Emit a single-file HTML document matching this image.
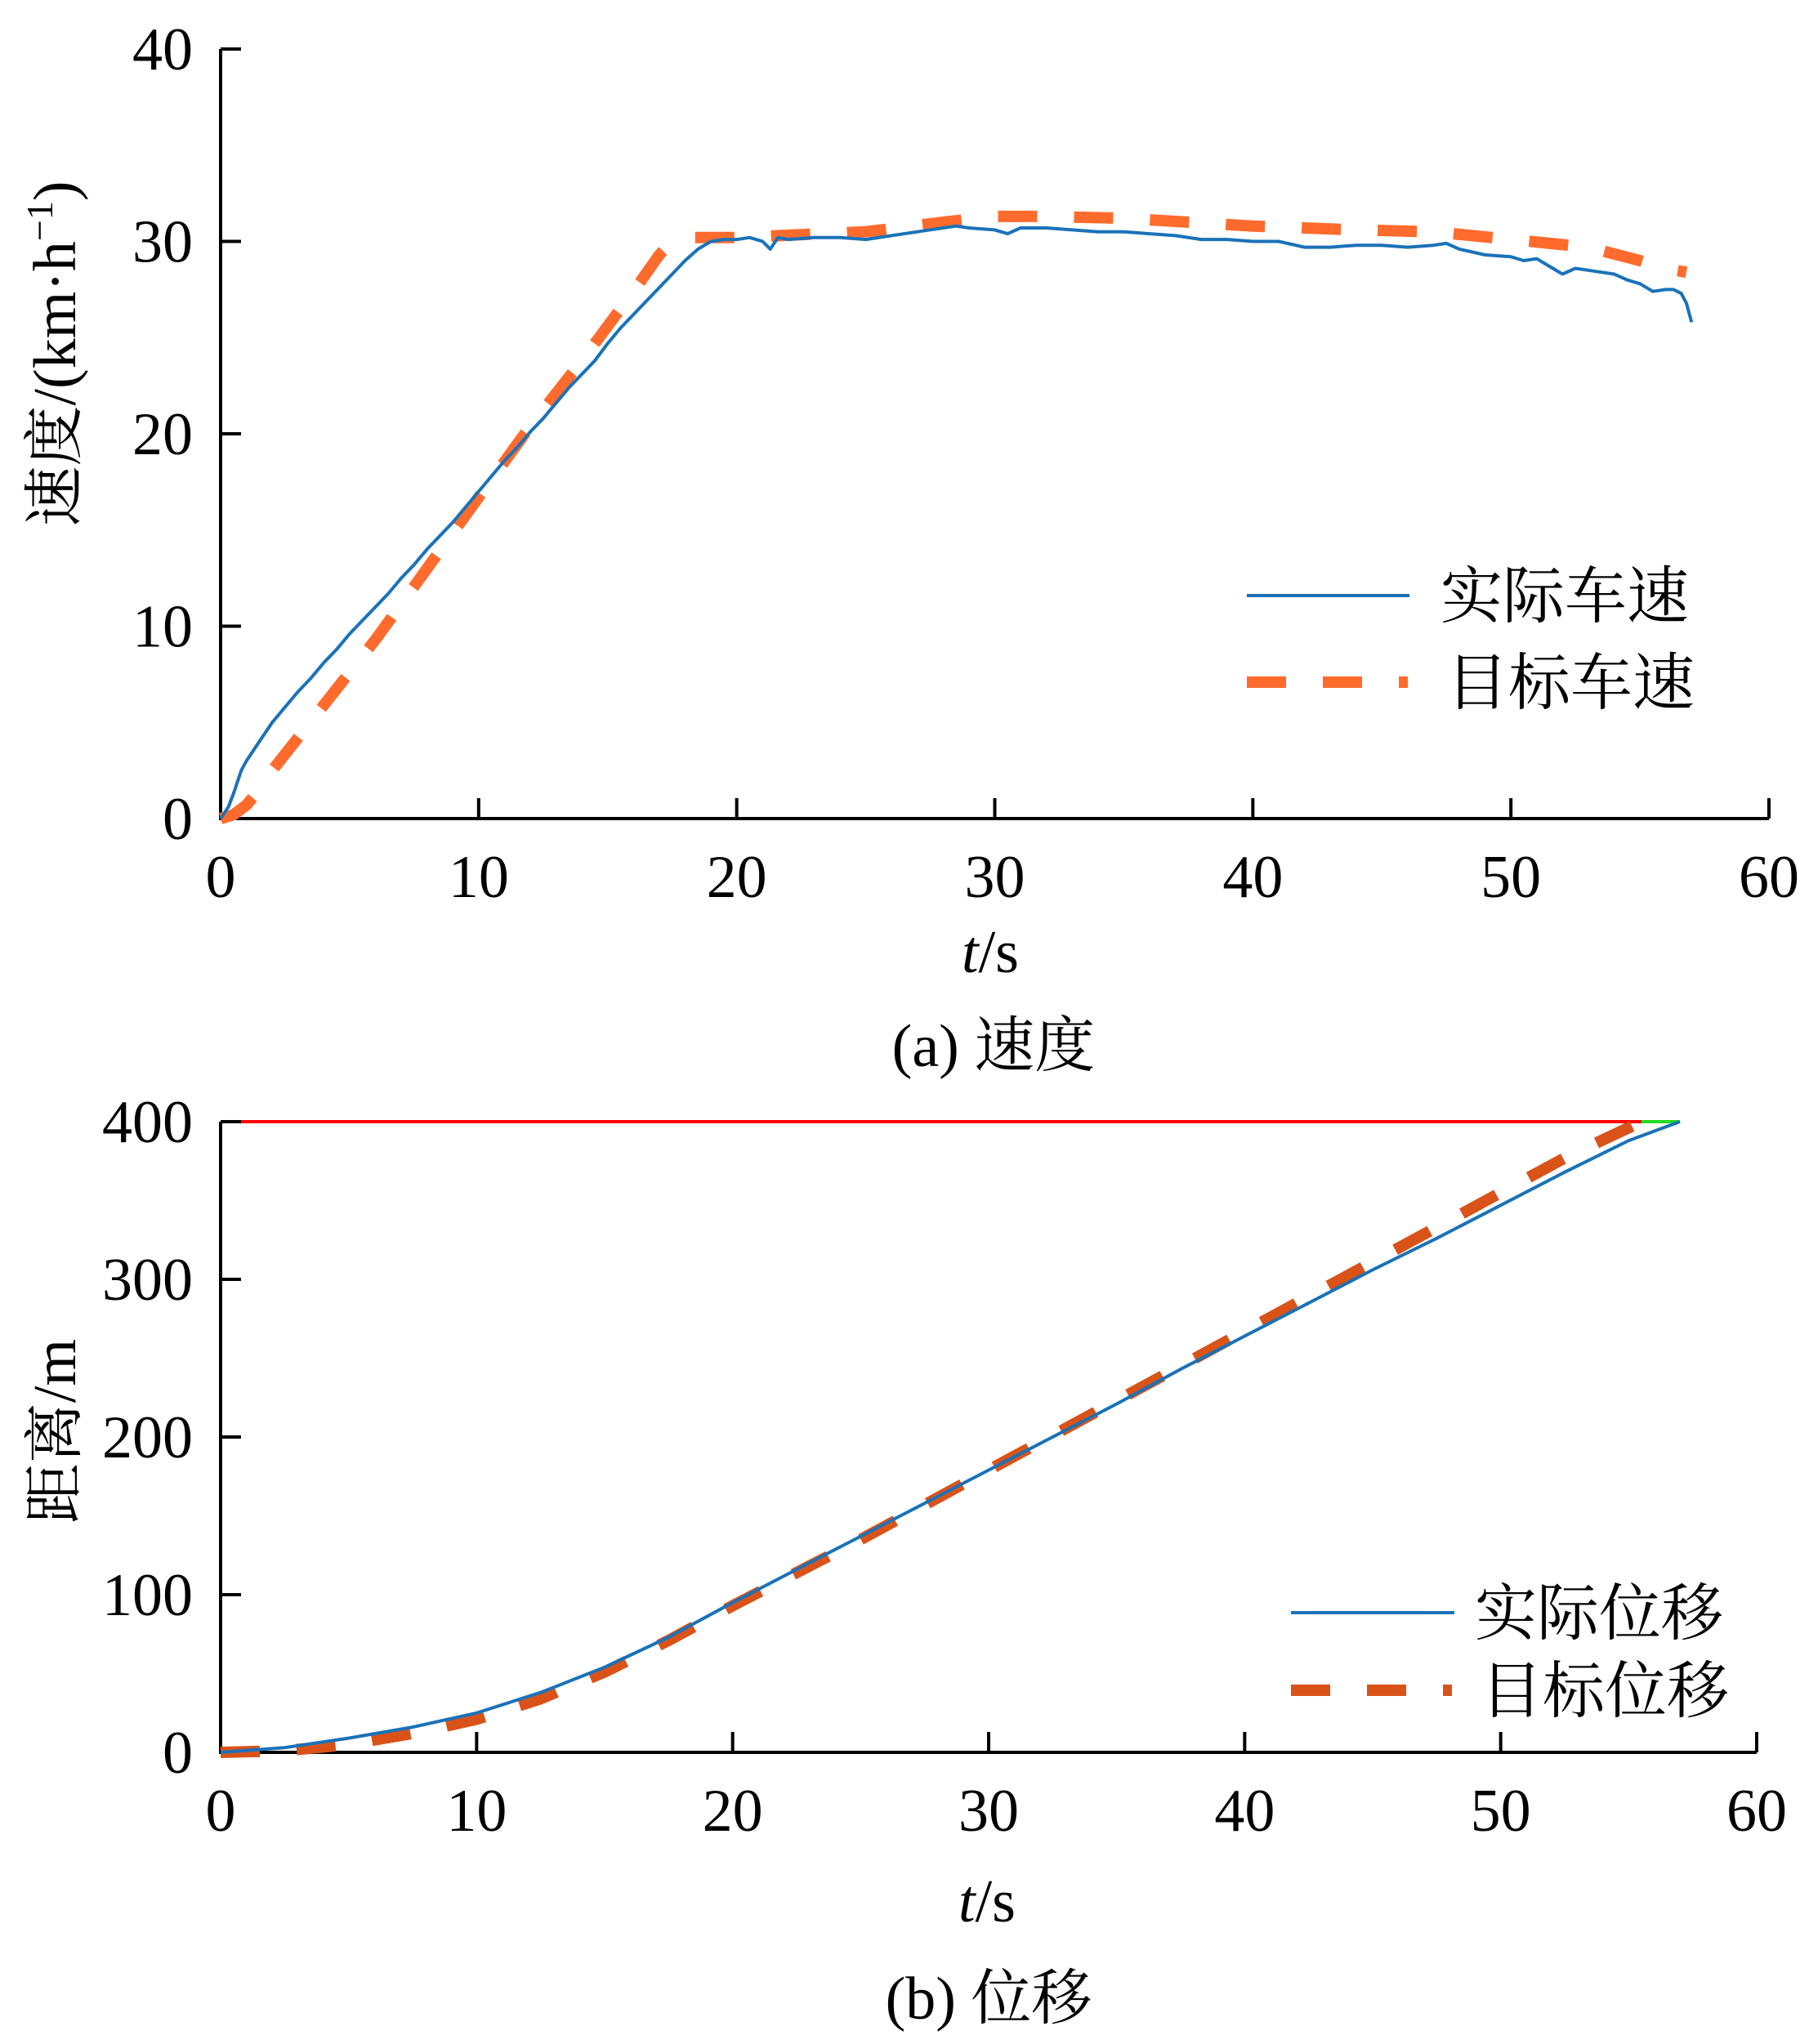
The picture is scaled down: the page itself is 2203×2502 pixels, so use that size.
<!DOCTYPE html>
<html><head><meta charset="utf-8"><style>
html,body{margin:0;padding:0;background:#fff;}
svg text{font-family:"Liberation Serif","Noto Serif CJK SC",serif;fill:#000;}
</style></head><body>
<svg id="fig" width="2203" height="2497" viewBox="0 0 2203 2497" xmlns="http://www.w3.org/2000/svg"></svg>
<script>
const speedTicksX=[0,10,20,30,40,50,60];
const speedTicksY=[0,10,20,30,40];
const distTicksY=[0,100,200,300,400];
const actT=[0,0.3,0.5,0.8,1,1.5,2,2.5,3,3.5,
4,4.5,5,5.5,6,6.5,7,7.5,8,8.5,
9,9.5,10,10.5,11,11.5,12,12.5,13,13.5,
14,14.5,15,15.5,16,16.5,17,17.5,18,18.5,
19,19.5,20,20.5,21,21.3,21.6,22,23,24,
25,26,27,28,28.5,29,30,30.5,31,32,
33,34,35,36,37,38,39,40,41,42,
43,44,45,46,47,47.5,48,49,50,50.5,
51,51.5,52,52.5,53,53.5,54,54.5,55,55.5,
56,56.3,56.6,56.8,57];
const actV=[0,0.6,1.3,2.5,3.0,4.0,5.0,5.8,6.6,7.3,
8.1,8.8,9.6,10.3,11.0,11.7,12.5,13.2,14.0,14.7,
15.4,16.2,17.0,17.8,18.6,19.3,20.1,20.8,21.6,22.4,
23.1,23.8,24.7,25.5,26.2,26.9,27.6,28.3,29.0,29.6,
30.0,30.1,30.1,30.2,30.0,29.6,30.2,30.1,30.2,30.2,
30.1,30.3,30.5,30.7,30.8,30.7,30.6,30.4,30.7,30.7,
30.6,30.5,30.5,30.4,30.3,30.1,30.1,30.0,30.0,29.7,
29.7,29.8,29.8,29.7,29.8,29.9,29.6,29.3,29.2,29.0,
29.1,28.7,28.3,28.6,28.5,28.4,28.3,28.0,27.8,27.4,
27.5,27.5,27.3,26.8,25.8];
const tgtT=[0,0.5,1,1.5,2,4,6,8,10,12,14,16,17,17.5,18,20,25,28,30,32,35,40,44,47,50,53,55,56,56.8];
const tgtV=[0,0.2,0.7,1.5,2.5,5.9,9.3,13,16.7,20.4,23.8,27.4,29.3,30,30.2,30.2,30.5,31.0,31.3,31.3,31.2,30.8,30.6,30.5,30.1,29.7,29.0,28.6,28.4];
const distT=[0,2.5,5,7.5,10,12.5,15,17.5,20,22.5,25,27.5,30,32.5,35,37.5,40,42.5,45,47.5,50,52.5,55,57];
const distAct=[0,3,9,16,25,38,54,73,95,116,137,158,179,200,221,243,264,285,306,326,347,368,388,400];
const distTgtT=[0,2.5,5,7.5,10,12.5,15,17.5,20,22.5,25,27.5,30,32.5,35,37.5,40,42.5,45,47.5,50,52.5,55.5];
const distTgt=[0,1,5,12,21,34,51,71,93,114,135,157,179,201,223,245,267,289,311,333,355,377,400];

const NS="http://www.w3.org/2000/svg";
const svg=document.getElementById('fig');
function mk(tag,attrs,parent){const e=document.createElementNS(NS,tag);for(const k in attrs)e.setAttribute(k,attrs[k]);(parent||svg).appendChild(e);return e;}

const tx=t=>270+t*(2165-270)/60;
const ty=v=>1002-v*(1002-60)/40;
const bx=t=>270+t*(2150-270)/60;
const by=v=>2145-v*(2145-1373)/400;

function drawAxes(xf,yf,xt,yt,yTop,group){
  let a=mk('line',{x1:xf(0),y1:yf(0),x2:xf(60),y2:yf(0),stroke:'#000','stroke-width':4},group);
  
  let b=mk('line',{x1:xf(0),y1:yf(0)+2,x2:xf(0),y2:yTop,stroke:'#000','stroke-width':4},group);
  
  xt.forEach(t=>{
    const l=mk('line',{x1:xf(t),y1:yf(0),x2:xf(t),y2:yf(0)-25,stroke:'#000','stroke-width':4},group);
    
    const tx_=mk('text',{x:xf(t),y:yf(0)+96,'font-size':74,'text-anchor':'middle'},group);
    tx_.textContent=t;
    
  });
  yt.forEach(v=>{
    const l=mk('line',{x1:xf(0),y1:yf(v),x2:xf(0)+25,y2:yf(v),stroke:'#000','stroke-width':4},group);
    
    const t_=mk('text',{x:xf(0)-34,y:yf(v)+25,'font-size':74,'text-anchor':'end'},group);
    t_.textContent=v;
    
  });
}
function path(ts,vs,xf,yf,attrs,group){
  const n=Math.min(ts.length,vs.length);let d='';
  for(let i=0;i<n;i++)d+=(i?'L':'M')+xf(ts[i]).toFixed(1)+' '+yf(vs[i]).toFixed(1);
  attrs.d=d;attrs.fill='none';return mk('path',attrs,group);
}

const g1=mk('g',{});

drawAxes(tx,ty,speedTicksX,speedTicksY,60,g1);
let p=path(tgtT,tgtV,tx,ty,{stroke:'#FF6B2C','stroke-width':14,'stroke-dasharray':'48 45'},g1);

p=path(actT,actV,tx,ty,{stroke:'#1A72B8','stroke-width':4,'stroke-linejoin':'round'},g1);


const g2=mk('g',{});

let r=mk('line',{x1:bx(0),y1:by(400),x2:bx(55.5),y2:by(400),stroke:'#FF0000','stroke-width':4},g2);

r=mk('line',{x1:bx(55.5),y1:by(400),x2:bx(57),y2:by(400),stroke:'#22DD22','stroke-width':4},g2);

drawAxes(bx,by,speedTicksX,distTicksY,1373,g2);
p=path(distTgtT,distTgt,bx,by,{stroke:'#D95319','stroke-width':14,'stroke-dasharray':'48 45'},g2);

p=path(distT,distAct,bx,by,{stroke:'#1A72B8','stroke-width':4},g2);

</script>
<svg style="position:absolute;left:0;top:0" width="2203" height="2497" xmlns="http://www.w3.org/2000/svg">
 <text transform="translate(92,433) rotate(-90)" font-size="74" text-anchor="middle">速度/(km·h<tspan font-size="46" dy="-28">−1</tspan><tspan dy="28">)</tspan></text>
 <text x="1212" y="1190" font-size="74" text-anchor="middle"><tspan font-style="italic">t</tspan>/s</text>
 <text x="1216" y="1305" font-size="74" text-anchor="middle">(a) 速度</text>
 <line x1="1526" y1="729" x2="1725" y2="729" stroke="#1A72B8" stroke-width="4"/>
 <text x="1763" y="756" font-size="76">实际车速</text>
 <line x1="1526" y1="835" x2="1723" y2="835" stroke="#FF6B2C" stroke-width="14" stroke-dasharray="48 45"/>
 <text x="1770" y="862" font-size="76">目标车速</text>

 <text transform="translate(92,1752) rotate(-90)" font-size="74" text-anchor="middle">距离/m</text>
 <text x="1208" y="2352" font-size="74" text-anchor="middle"><tspan font-style="italic">t</tspan>/s</text>
 <text x="1210" y="2471" font-size="74" text-anchor="middle">(b) 位移</text>
 <line x1="1580" y1="1974" x2="1780" y2="1974" stroke="#1A72B8" stroke-width="4"/>
 <text x="1805" y="2001" font-size="76">实际位移</text>
 <line x1="1580" y1="2069" x2="1777" y2="2069" stroke="#D95319" stroke-width="14" stroke-dasharray="48 45"/>
 <text x="1812" y="2096" font-size="76">目标位移</text>
</svg>
</body></html>
